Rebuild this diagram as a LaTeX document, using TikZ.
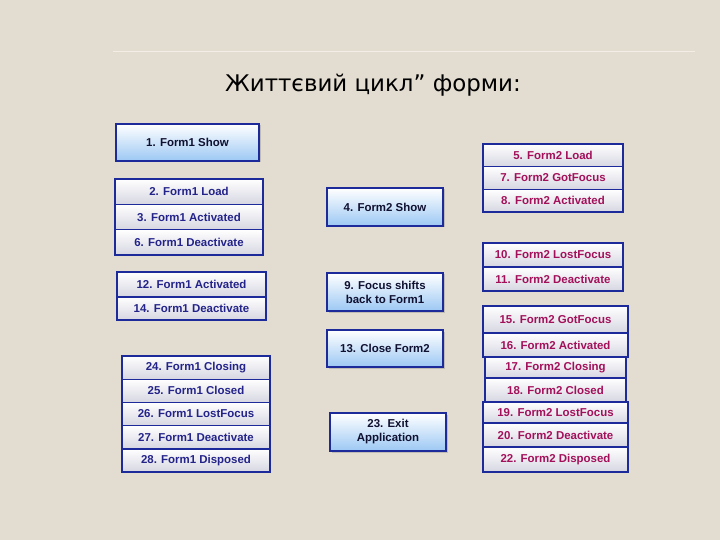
\documentclass[tikz,border=0pt]{standalone}
\usepackage{fontspec}
\setmainfont{Liberation Sans}
\newfontfamily\titlefont{DejaVu Sans}
\usetikzlibrary{shadows}
\definecolor{bgc}{HTML}{E3DCD0}
\definecolor{linec}{HTML}{F2EEE6}
\definecolor{bordc}{HTML}{1C2A9A}
\definecolor{rowbot}{HTML}{D6D6E2}
\definecolor{bluebot}{HTML}{9CC8F4}
\definecolor{fonec}{HTML}{23238A}
\definecolor{ftwoc}{HTML}{A3105A}
\definecolor{midc}{HTML}{101030}
\tikzset{
  base/.style={draw=bordc, line width=1.4pt, inner sep=0pt, align=center,
     font=\fontsize{11.5}{14}\selectfont\bfseries},
  rowone/.style={base, top color=white, bottom color=rowbot, text=fonec},
  rowtwo/.style={base, top color=white, bottom color=rowbot, text=ftwoc},
  bluebox/.style={base, top color=white, bottom color=bluebot, text=midc,
     drop shadow={shadow xshift=1.5bp, shadow yshift=-1.5bp, opacity=0.35}},
}
\begin{document}
\begin{tikzpicture}[x=1bp,y=-1bp]
\useasboundingbox (0,0) rectangle (720,540);
\fill[bgc] (0,0) rectangle (720,540);
\draw[linec, line width=1pt] (113,52) -- (695,52);
\node[font=\titlefont\fontsize{23}{26}\selectfont, text=black] (title) at (373,85) {Життєвий цикл” форми:};

% Box 1
\node[bluebox, minimum width=143bp, minimum height=37bp] (b1) at (187.5,142.5) {1. Form1 Show};

% Left group A
\node[rowone, minimum width=148bp, minimum height=25.3bp] (a2) at (189,191.7) {2. Form1 Load};
\node[rowone, minimum width=148bp, minimum height=25.3bp] (a3) at (189,217) {3. Form1 Activated};
\node[rowone, minimum width=148bp, minimum height=25.3bp] (a6) at (189,242.3) {6. Form1 Deactivate};

% Left group B
\node[rowone, minimum width=149bp, minimum height=25bp] (a12) at (191.5,284.5) {12. Form1 Activated};
\node[rowone, minimum width=149bp, minimum height=23bp] (a14) at (191.5,308.5) {14. Form1 Deactivate};

% Left group C
\node[rowone, minimum width=148bp, minimum height=23.2bp] (a24) at (196,367.6) {24. Form1 Closing};
\node[rowone, minimum width=148bp, minimum height=23.2bp] (a25) at (196,390.8) {25. Form1 Closed};
\node[rowone, minimum width=148bp, minimum height=23.2bp] (a26) at (196,414) {26. Form1 LostFocus};
\node[rowone, minimum width=148bp, minimum height=23.2bp] (a27) at (196,437.2) {27. Form1 Deactivate};
\node[rowone, minimum width=148bp, minimum height=23.2bp] (a28) at (196,460.4) {28. Form1 Disposed};

% Middle column
\node[bluebox, minimum width=116bp, minimum height=38bp] (m4) at (385,207) {4. Form2 Show};
\node[bluebox, minimum width=116bp, minimum height=38bp] (m9) at (385,292) {9. Focus shifts\\back to Form1};
\node[bluebox, minimum width=116bp, minimum height=37bp] (m13) at (385,348.5) {13. Close Form2};
\node[bluebox, minimum width=116bp, minimum height=38bp] (m23) at (388,432) {23. Exit\\Application};

% Right group D
\node[rowtwo, minimum width=140bp, minimum height=22.7bp] (f5) at (553,155.3) {5. Form2 Load};
\node[rowtwo, minimum width=140bp, minimum height=22.7bp] (f7) at (553,178) {7. Form2 GotFocus};
\node[rowtwo, minimum width=140bp, minimum height=22.7bp] (f8) at (553,200.7) {8. Form2 Activated};

% Right group E
\node[rowtwo, minimum width=140bp, minimum height=24bp] (f10) at (553,255) {10. Form2 LostFocus};
\node[rowtwo, minimum width=140bp, minimum height=24bp] (f11) at (553,279) {11. Form2 Deactivate};

% Right group F
\node[rowtwo, minimum width=145bp, minimum height=27bp] (f15) at (555.5,319.5) {15. Form2 GotFocus};
\node[rowtwo, minimum width=145bp, minimum height=24bp] (f16) at (555.5,345) {16. Form2 Activated};
\node[rowtwo, minimum width=141bp, minimum height=21bp] (f17) at (555.5,367.5) {17. Form2 Closing};
\node[rowtwo, minimum width=141bp, minimum height=24bp] (f18) at (555.5,390) {18. Form2 Closed};
\node[rowtwo, minimum width=145bp, minimum height=21bp] (f19) at (555.5,412.5) {19. Form2 LostFocus};
\node[rowtwo, minimum width=145bp, minimum height=24bp] (f20) at (555.5,435) {20. Form2 Deactivate};
\node[rowtwo, minimum width=145bp, minimum height=25bp] (f22) at (555.5,459.5) {22. Form2 Disposed};
\end{tikzpicture}
\end{document}
